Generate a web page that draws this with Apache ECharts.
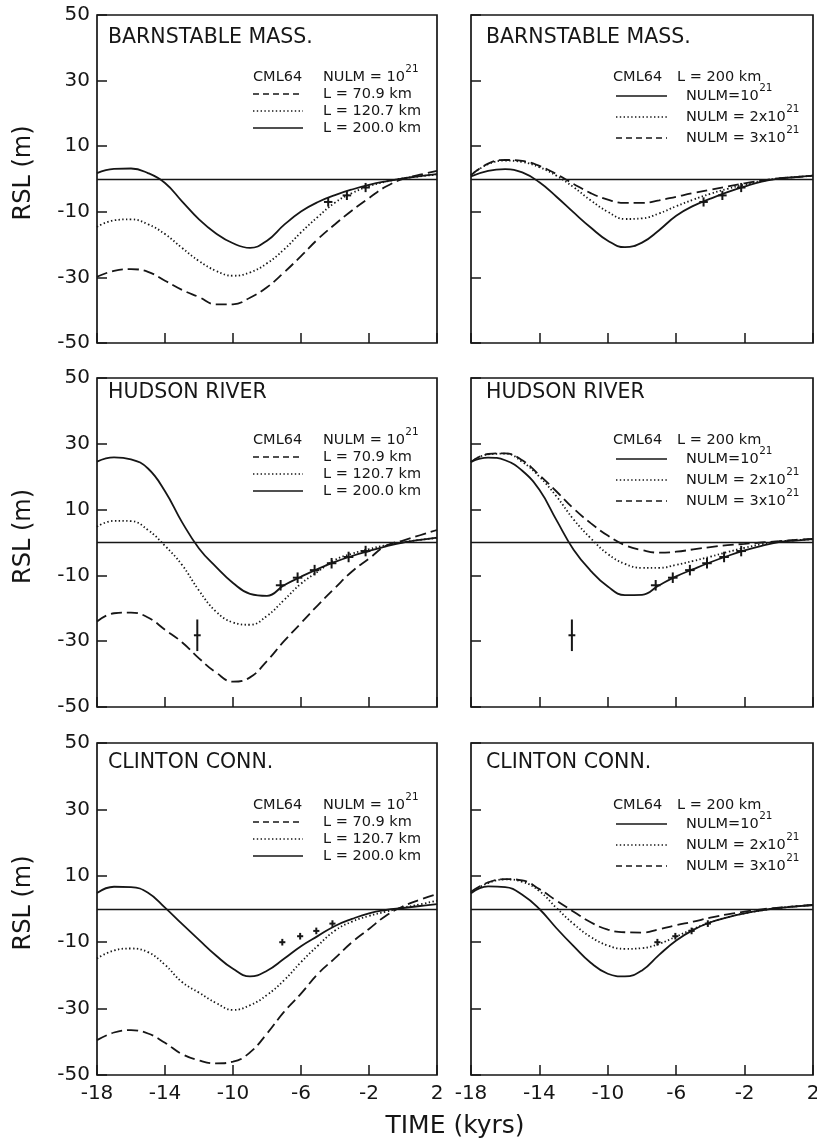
<!DOCTYPE html>
<html>
<head>
<meta charset="utf-8">
<title>RSL curves, CML64</title>
<script src="https://cdn.jsdelivr.net/npm/echarts@6/dist/echarts.min.js"></script>
<style>
  html, body { margin: 0; padding: 0; background: #fff; }
  #chart { width: 817px; height: 1141px; }
</style>
</head>
<body>
<div id="chart"></div>
<script>
// Time axis (kyr) shared by all model curves
const kyr = [-18,-17,-16,-15,-14,-13,-12,-11,-10,-9,-8,-7,-6,-5,-4,-3,-2,-1,0,1,2];
const timeTicks = [-18,-14,-10,-6,-2,2];
const rslTicks = [50,30,10,-10,-30,-50];

// Barnstable, Mass. — NULM = 1e21, lithosphere thickness L varies
const barnL70 = [-29.8,-28,-27.5,-28.3,-31,-33.8,-36,-38.2,-38.2,-36.2,-33,-28.5,-23.5,-18.3,-13.8,-9.6,-5.8,-2.3,0,1.3,2.5];
const barnL120 = [-14.6,-12.6,-12.3,-13.8,-16.8,-21,-25,-28,-29.5,-28.5,-25.7,-21.5,-16.3,-11.5,-7.2,-4.3,-2.2,-0.8,0.2,0.8,1.4];
const barnL200 = [1.8,3.1,3.2,1.8,-1.2,-6.8,-12.3,-16.6,-19.6,-21,-18.8,-14,-9.9,-7,-4.9,-3.2,-1.8,-0.7,0.2,0.9,1.5];
// Barnstable, Mass. — L = 200 km, NULM varies
const barnN1 = [0.8,2.5,3.0,2.0,-1,-5.4,-10.2,-14.8,-18.8,-20.8,-19.4,-15.6,-11.2,-8.2,-6,-4,-2.3,-0.8,0.1,0.6,1.0];
const barnN2 = [1.2,4.5,5.6,5.2,3.6,1.0,-2.5,-6.5,-10,-12.2,-12,-10.5,-8.3,-6.3,-4.5,-3,-1.7,-0.6,0.2,0.6,1.0];
const barnN3 = [1.2,4.7,5.8,5.5,4.0,1.5,-1.5,-4.3,-6.3,-7.3,-7.3,-6.5,-5.4,-4.3,-3.3,-2.3,-1.3,-0.5,0.2,0.6,1.0];

// Hudson River
const hudL70 = [-24,-21.5,-21.3,-22.8,-26.5,-30.3,-35.2,-39.5,-42.3,-41,-36,-30,-24.5,-19,-13.8,-8.8,-4.9,-1,0.6,2.2,3.8];
const hudL120 = [4.8,6.6,6.5,3.8,-1,-6.8,-14.6,-21,-24.3,-25,-22.3,-17.5,-12.5,-8.8,-5.3,-3.4,-2,-0.8,0.1,0.8,1.4];
const hudL200 = [24.6,25.9,25.3,22.5,15.6,6.2,-1.8,-7.4,-12.3,-15.6,-16.2,-13,-10.4,-8,-5.9,-4.1,-2.6,-1.2,0,0.8,1.5];
const hudN1 = [24.5,25.8,25,21.8,16,6.8,-2.2,-8.6,-13.4,-16,-15.9,-13,-10.3,-8.1,-6,-4.1,-2.4,-1,0.1,0.6,1];
const hudN2 = [24.5,26.8,27,24.5,20,14,7,1.3,-3.5,-6.5,-7.7,-7.7,-6.8,-5.6,-4.3,-2.9,-1.6,-0.5,0.3,0.7,1];
const hudN3 = [24.5,26.9,27.1,25,20.5,15.5,10.3,5.9,2.1,-0.8,-2.3,-3.1,-2.8,-2.1,-1.4,-0.8,-0.4,0,0.4,0.8,1.1];

// Clinton, Conn.
const cliL70 = [-39.5,-37.2,-36.5,-37.5,-40.3,-43.7,-45.6,-46.5,-46,-43.2,-37.5,-31,-25.5,-19.5,-14.8,-10,-6,-2,0.8,2.8,4.5];
const cliL120 = [-14.9,-12.5,-11.9,-13,-16.8,-22,-25.2,-28.3,-30.4,-29,-25.9,-21.5,-16,-11,-6.5,-3.8,-2.1,-0.8,0.4,1.4,2.5];
const cliL200 = [4.8,6.7,6.6,4.9,0.4,-4.5,-9.3,-14,-18,-20.3,-18.6,-15,-11.2,-8.1,-5.1,-3,-1.3,-0.3,0.3,0.9,1.5];
const cliN1 = [4.7,6.8,6.6,4.3,0,-5.8,-11.2,-16.2,-19.5,-20.3,-18.5,-13.8,-9.5,-6.3,-4,-2.5,-1.3,-0.4,0.3,0.8,1.2];
const cliN2 = [5,7.8,8.9,8.2,5.4,0.3,-4.5,-8.4,-11,-12,-11.8,-10.5,-8.3,-6,-4,-2.5,-1.3,-0.4,0.3,0.8,1.2];
const cliN3 = [5.2,8,9,8.6,6,2.5,-0.8,-4,-6.2,-7,-7.1,-6.1,-4.9,-3.8,-2.6,-1.6,-0.8,-0.1,0.4,0.8,1.2];

// Observed sea-level index points: [age kyr, RSL m, age error kyr, RSL error m]
const barnObs = [[-4.4,-7,0.25,1.4],[-3.3,-5,0.25,1.4],[-2.2,-2.6,0.25,1.4]];
const hudObs = [[-12.1,-28.2,0.2,4.8],[-7.2,-13,0.28,1.6],[-6.2,-10.7,0.28,1.6],[-5.2,-8.4,0.28,1.6],[-4.2,-6.3,0.28,1.6],[-3.2,-4.4,0.28,1.6],[-2.2,-2.6,0.28,1.6]];
const cliObs = [[-7.1,-10,0.18,1.0],[-6.05,-8.2,0.18,1.0],[-5.1,-6.6,0.18,1.0],[-4.15,-4.4,0.18,1.0]];

const siteNames = ['BARNSTABLE MASS.', 'HUDSON RIVER', 'CLINTON CONN.'];
const leftCurves = [[barnL70, barnL120, barnL200], [hudL70, hudL120, hudL200], [cliL70, cliL120, cliL200]];
const rightCurves = [[barnN1, barnN2, barnN3], [hudN1, hudN2, hudN3], [cliN1, cliN2, cliN3]];
const siteObs = [barnObs, hudObs, cliObs];

// ---- layout & styling ----
const INK = '#161616';
const FONT = '"DejaVu Sans", sans-serif';
const cols = [{ left: 97, width: 340 }, { left: 471, width: 342 }];
const rows = [{ top: 15, height: 328, titleY: 23 }, { top: 378, height: 329, titleY: 15 }, { top: 743, height: 332, titleY: 20 }];
const DASH = [11, 5];
const DOT = [1.4, 2.4];
const CURVE_W = 1.8;

const measureCtx = document.createElement('canvas').getContext('2d');
function textWidth(txt, size) {
  measureCtx.font = size + 'px ' + FONT;
  return measureCtx.measureText(txt).width;
}

const grids = [], xAxes = [], yAxes = [], series = [], graphics = [];

function pairs(values) { return kyr.map((t, i) => [t, values[i]]); }

function crossItem(params, api) {
  const t = api.value(0), v = api.value(1), dt = api.value(2), dv = api.value(3);
  const c = api.coord([t, v]);
  const l = api.coord([t - dt, v]);
  const r = api.coord([t + dt, v]);
  const top = api.coord([t, v + dv]);
  const bot = api.coord([t, v - dv]);
  const st = { stroke: INK, lineWidth: 2 };
  return {
    type: 'group',
    children: [
      { type: 'line', shape: { x1: l[0], y1: c[1], x2: r[0], y2: c[1] }, style: st },
      { type: 'line', shape: { x1: c[0], y1: top[1], x2: c[0], y2: bot[1] }, style: st }
    ]
  };
}

function addText(x, y, text, size, extra) {
  graphics.push(Object.assign({
    type: 'text', x: x, y: y, silent: true,
    style: { text: text, fontSize: size, fontFamily: FONT, fill: INK, align: 'left', verticalAlign: 'middle' }
  }, extra || {}));
}
function addSample(x1, x2, y, dash) {
  graphics.push({
    type: 'line', silent: true,
    shape: { x1: x1, y1: y, x2: x2, y2: y },
    style: { stroke: INK, lineWidth: 1.7, lineDash: dash || null }
  });
}
function addPowerText(x, y, base, size) {
  addText(x, y, base, size);
  addText(x + textWidth(base, size) + 0.5, y - 8, '21', size * 0.72);
}

let idx = 0;
rows.forEach((row, r) => {
  cols.forEach((col, c) => {
    const i = idx++;
    grids.push({ left: col.left, top: row.top, width: col.width, height: row.height,
      outerBoundsMode: 'none', containLabel: false,
      show: true, borderColor: INK, borderWidth: 1.7, backgroundColor: 'transparent' });
    xAxes.push({
      gridIndex: i, type: 'value', min: -18, max: 2, position: 'bottom',
      axisLine: { show: false, onZero: false }, splitLine: { show: false },
      axisTick: { show: true, inside: true, length: 10, customValues: timeTicks, lineStyle: { color: INK, width: 1.5 } },
      axisLabel: { show: r === 2, customValues: timeTicks, margin: 9, fontSize: 20, fontFamily: FONT, color: INK }
    });
    yAxes.push({
      gridIndex: i, type: 'value', min: -50, max: 50, position: 'left',
      axisLine: { show: false, onZero: false }, splitLine: { show: false },
      axisTick: { show: true, inside: true, length: 10, customValues: rslTicks, lineStyle: { color: INK, width: 1.5 } },
      axisLabel: { show: c === 0, customValues: rslTicks, margin: 7, fontSize: 20, fontFamily: FONT, color: INK }
    });

    const curves = c === 0 ? leftCurves[r] : rightCurves[r];
    // left column order: dashed, dotted, solid; right column: solid, dotted, dashed
    const styles = c === 0 ? [DASH, DOT, 'solid'] : ['solid', DOT, DASH];
    curves.forEach((vals, k) => {
      const s = {
        type: 'line', xAxisIndex: i, yAxisIndex: i, data: pairs(vals),
        showSymbol: false, smooth: 0.45, silent: true, animation: false,
        lineStyle: { color: INK, width: CURVE_W, type: styles[k] }
      };
      if (k === 0) {
        s.markLine = {
          silent: true, symbol: 'none', animation: false,
          label: { show: false },
          lineStyle: { color: INK, width: 1.3, type: 'solid' },
          data: [{ yAxis: 0 }]
        };
      }
      series.push(s);
    });
    series.push({
      type: 'custom', xAxisIndex: i, yAxisIndex: i, silent: true, animation: false,
      data: siteObs[r], encode: { x: 0, y: 1 }, renderItem: crossItem
    });

    // panel title
    addText(col.left + (c === 0 ? 11 : 15), row.top + row.titleY, siteNames[r], 20.5);

    // key
    if (c === 0) {
      const sx = col.left + 156, tx = col.left + 226;
      const ys = [62, 79, 96, 113].map(v => row.top + v);
      addText(sx, ys[0], 'CML64', 14.5);
      addPowerText(tx, ys[0], 'NULM = 10', 14.5);
      addSample(sx, sx + 50, ys[1], [6, 4]);
      addText(tx, ys[1], 'L = 70.9 km', 14.5);
      addSample(sx, sx + 50, ys[2], DOT);
      addText(tx, ys[2], 'L = 120.7 km', 14.5);
      addSample(sx, sx + 50, ys[3], null);
      addText(tx, ys[3], 'L = 200.0 km', 14.5);
    } else {
      const sx = col.left + 145, tx = col.left + 215;
      const ys = [62, 81, 102, 123].map(v => row.top + v);
      addText(sx - 3, ys[0], 'CML64', 14.5);
      addText(col.left + 206, ys[0], 'L = 200 km', 14.5);
      addSample(sx, sx + 51, ys[1], null);
      addPowerText(tx, ys[1], 'NULM=10', 14.5);
      addSample(sx, sx + 51, ys[2], DOT);
      addPowerText(tx, ys[2], 'NULM = 2x10', 14.5);
      addSample(sx, sx + 51, ys[3], [6, 4]);
      addPowerText(tx, ys[3], 'NULM = 3x10', 14.5);
    }
  });
  // y-axis title for the row
  addText(24, row.top + row.height / 2 - 6, 'RSL (m)', 24,
    { rotation: Math.PI / 2, style: { text: 'RSL (m)', fontSize: 24, fontFamily: FONT, fill: INK, align: 'center', verticalAlign: 'middle' } });
});

// shared time-axis title
addText(455, 1126, 'TIME (kyrs)', 25,
  { style: { text: 'TIME (kyrs)', fontSize: 25, fontFamily: FONT, fill: INK, align: 'center', verticalAlign: 'middle' } });

const chart = echarts.init(document.getElementById('chart'), null, { renderer: 'canvas' });
chart.setOption({
  backgroundColor: '#ffffff',
  animation: false,
  grid: grids,
  xAxis: xAxes,
  yAxis: yAxes,
  series: series,
  graphic: graphics
});
</script>
</body>
</html>
